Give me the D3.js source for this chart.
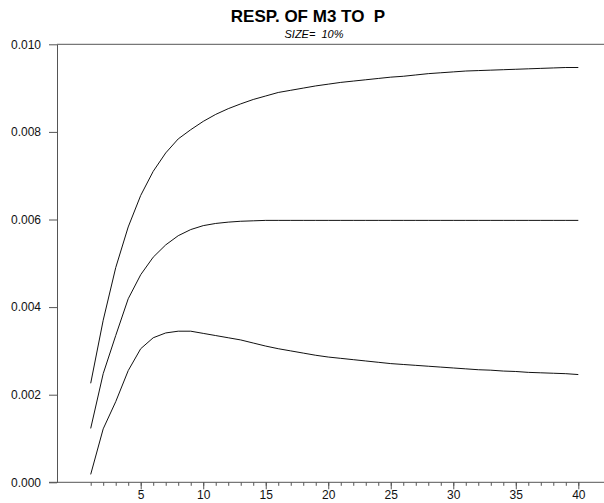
<!DOCTYPE html>
<meta charset="utf-8">
<style>
body { margin: 0; background: #fff; }
text { font-family: "Liberation Sans", Arial, sans-serif; white-space: pre; }
.axis text { font-size: 12px; fill: #111; }
.axis line, .axis path { stroke: #555; }
.curve { fill: none; stroke: #111; stroke-width: 1px; }
</style>
<script src="https://d3js.org/d3.v7.min.js"></script>
<div id="chart"></div>
<script>

// horizons 1..40
var steps = d3.range(1, 41);

var upper = [0.00226, 0.0037, 0.0049, 0.00583, 0.00655, 0.0071, 0.00752, 0.00784, 0.00805, 0.00824,
             0.0084, 0.00853, 0.00864, 0.00874, 0.00882, 0.0089, 0.00895, 0.009, 0.00905, 0.00909,
             0.00913, 0.00916, 0.00919, 0.00922, 0.00925, 0.00927, 0.0093, 0.00933, 0.00935, 0.00937,
             0.00939, 0.0094, 0.00941, 0.00942, 0.00943, 0.00944, 0.00945, 0.00946, 0.00947, 0.00947];

var middle = [0.00123, 0.00248, 0.00335, 0.00419, 0.00474, 0.00514, 0.00542, 0.00563, 0.00577, 0.00586,
              0.00591, 0.00594, 0.00596, 0.00597, 0.00598, 0.00598, 0.00598, 0.00598, 0.00598, 0.00598,
              0.00598, 0.00598, 0.00598, 0.00598, 0.00598, 0.00598, 0.00598, 0.00598, 0.00598, 0.00598,
              0.00598, 0.00598, 0.00598, 0.00598, 0.00598, 0.00598, 0.00598, 0.00598, 0.00598, 0.00598];

var lower = [0.00018, 0.00122, 0.00184, 0.00255, 0.00305, 0.0033, 0.00341, 0.00345, 0.00345, 0.0034,
             0.00335, 0.0033, 0.00325, 0.00318, 0.00311, 0.00305, 0.003, 0.00295, 0.0029, 0.00286,
             0.00283, 0.0028, 0.00277, 0.00274, 0.00271, 0.00269, 0.00267, 0.00265, 0.00263, 0.00261,
             0.00259, 0.00257, 0.00256, 0.00254, 0.00253, 0.00251, 0.0025, 0.00249, 0.00248, 0.00246];

var yTicks = [0, 0.002, 0.004, 0.006, 0.008, 0.010];
var xMajor = [5, 10, 15, 20, 25, 30, 35, 40];

var width = 604, height = 503;
var plotLeft = 57, plotTop = 44.3, plotBottom = 482.3;

var svg = d3.select("#chart").append("svg")
    .attr("width", width)
    .attr("height", height);

var x = d3.scaleLinear().domain([1, 40]).range([90.7, 578.3]);
var y = d3.scaleLinear().domain([0, 0.01]).range([plotBottom, plotTop]);

// title
svg.append("text")
    .attr("x", 308).attr("y", 21.5)
    .attr("text-anchor", "middle")
    .style("font-size", "17px").style("font-weight", "bold")
    .text("RESP. OF M3 TO  P");

svg.append("text")
    .attr("x", 314).attr("y", 37.5)
    .attr("text-anchor", "middle")
    .style("font-size", "11px").style("font-style", "italic")
    .text("SIZE=  10%");

// frame lines
svg.append("line")
    .attr("x1", plotLeft).attr("x2", width)
    .attr("y1", plotTop).attr("y2", plotTop)
    .attr("stroke", "#555");
svg.append("line")
    .attr("x1", 49).attr("x2", width)
    .attr("y1", plotBottom).attr("y2", plotBottom)
    .attr("stroke", "#555");

// y axis
svg.append("g")
    .attr("class", "axis")
    .attr("transform", "translate(" + plotLeft + ",0)")
    .call(d3.axisLeft(y).tickValues(yTicks).tickFormat(d3.format(".3f"))
        .tickSize(8).tickSizeOuter(0).tickPadding(8));

// x axis: minor ticks every step, longer ticks with labels every 5
var minor = svg.append("g")
    .attr("class", "axis")
    .attr("transform", "translate(0," + plotBottom + ")")
    .call(d3.axisBottom(x).tickValues(steps).tickFormat("").tickSize(3.5).tickSizeOuter(0));
minor.select(".domain").remove();

var major = svg.append("g")
    .attr("class", "axis")
    .attr("transform", "translate(0," + plotBottom + ")")
    .call(d3.axisBottom(x).tickValues(xMajor).tickFormat(d3.format("d")).tickSize(7).tickPadding(1.5));
major.select(".domain").remove();

// curves
var line = d3.line()
    .x(function(d, i) { return x(steps[i]); })
    .y(function(d) { return y(d); });

[upper, middle, lower].forEach(function(s) {
  svg.append("path")
      .attr("class", "curve")
      .attr("d", line(s));
});

</script>
